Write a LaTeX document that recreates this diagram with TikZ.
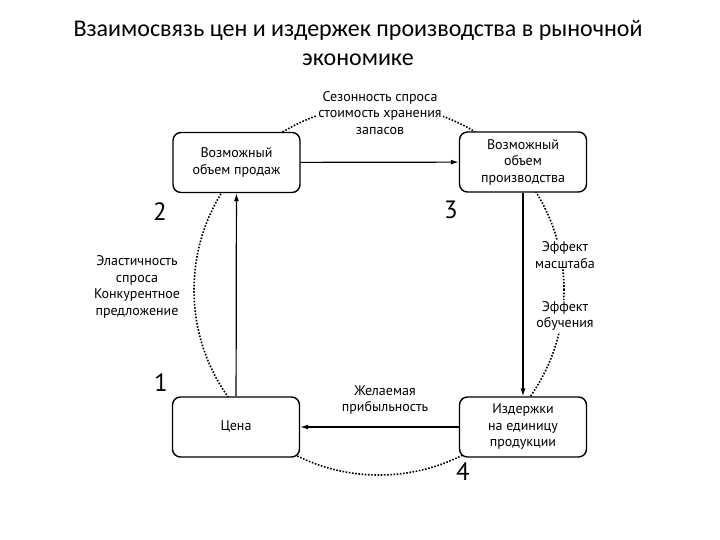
\documentclass[tikz,border=0pt]{standalone}
\usepackage{fontspec}
\setmainfont{PT Sans}
\newfontfamily\titlefont{Carlito}
\usetikzlibrary{arrows.meta}

\begin{document}
\begin{tikzpicture}[
  x=1pt, y=-1pt,
  font=\fontsize{14}{16.5}\selectfont,
  >={Latex[length=8pt,width=5pt]},
  block/.style={
    draw,
    line width=1.4pt,
    rounded corners=8pt,
    fill=white,
    align=center,
    minimum width=127pt,
    minimum height=60pt,
    inner sep=2pt
  },
  note/.style={
    fill=white,
    align=center,
    inner sep=1pt
  },
  flow/.style={->, line width=1.2pt},
  ring/.style={dash pattern=on 1.6pt off 1.6pt, line width=1.6pt},
  stagenum/.style={font=\fontsize{25}{25}\selectfont}
]
\useasboundingbox (0,0) rectangle (720,540);

% Dotted ring behind the cycle
\coordinate (centre) at (379,290);
\draw[ring] (centre) circle[radius=185pt];

% Title
\node[font=\titlefont\fontsize{24}{29}\selectfont, align=center] (title) at (358,43) {%
  Взаимосвязь цен и издержек производства в рыночной\\
  экономике
};

% Blocks of the cycle
\node[block] (sales) at (236.5,162.5) {Возможный\\объем продаж};
\node[block] (output) at (523,162) {Возможный\\объем\\производства};
\node[block] (price) at (236,427) {Цена};
\node[block] (cost) at (523,427) {Издержки\\на единицу\\продукции};

% Factors on the ring
\node[note] (season) at (380,113) {Сезонность спроса\\стоимость хранения\\запасов};
\node[note] (elastic) at (137,287) {Эластичность\\спроса\\Конкурентное\\предложение};
\node[note] (scale) at (565,255) {Эффект\\масштаба};
\node[note] (learning) at (565,316) {Эффект\\обучения};
\node[note, fill=none] (profit) at (385,400) {Желаемая\\прибыльность};

% Stage numbers
\node[stagenum] (n1) at (161,383) {1};
\node[stagenum] (n2) at (160,212) {2};
\node[stagenum] (n3) at (451,210) {3};
\node[stagenum] (n4) at (463,472) {4};

% Links
\draw[flow] (sales) -- (output);
\draw[flow] (output) -- (cost);
\draw[flow] (cost) -- (price);
\draw[flow] (price) -- (sales);

\end{tikzpicture}
\end{document}
